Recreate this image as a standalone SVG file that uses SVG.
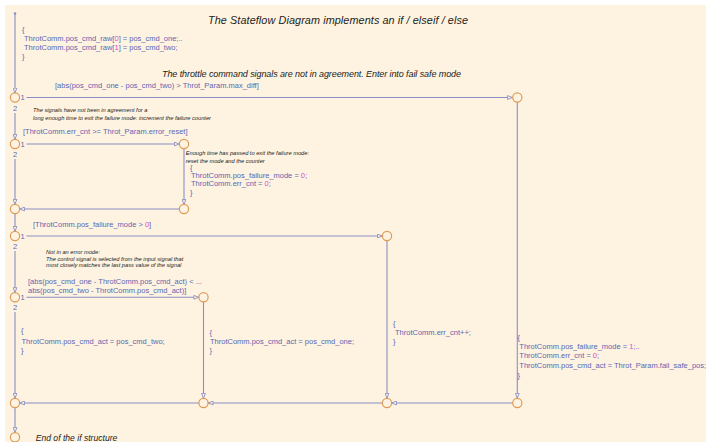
<svg xmlns="http://www.w3.org/2000/svg" width="706" height="442" viewBox="0 0 706 442">
<defs>
<style>
.bg{fill:#FEF3E0}
.ln{fill:none;stroke:#8A8EC6;stroke-width:1.1}
.jn{fill:none;stroke:#DE9B58;stroke-width:1.2}
.code{font-family:"Liberation Sans",Arial,sans-serif;font-size:7.5px;fill:#5B66B3}
.num{fill:#E048D8}
.cmt{font-family:"Liberation Sans",Arial,sans-serif;font-size:5.7px;font-style:italic;fill:#1a1a1a}
.head{font-family:"Liberation Sans",Arial,sans-serif;font-style:italic;fill:#222}
</style>
<marker id="ah" markerUnits="userSpaceOnUse" markerWidth="6" markerHeight="5" viewBox="0 0 6 5" refX="5.5" refY="2.5" orient="auto">
<path d="M0.6,0.6 L5.4,2.5 L0.6,4.4 Z" fill="#FEF3E0" stroke="#8A8EC6" stroke-width="0.9"/>
</marker>
</defs>
<rect x="0" y="0" width="706" height="442" fill="#FFFFFF"/>
<rect class="bg" x="5" y="5" width="701" height="437"/>

<g id="connectors">
<circle cx="15" cy="13.5" r="1.3" fill="#8A8EC6"/>
<path class="ln" d="M15,13.5 V93" marker-end="url(#ah)"/>
<path class="ln" d="M26.5,97.5 H512.5" marker-end="url(#ah)"/>
<path class="ln" d="M15,113 V139.3" marker-end="url(#ah)"/>
<path class="ln" d="M26.5,144 H179.3" marker-end="url(#ah)"/>
<path class="ln" d="M184,148.5 V204.5" marker-end="url(#ah)"/>
<path class="ln" d="M179.5,209 H19.7" marker-end="url(#ah)"/>
<path class="ln" d="M15,159 V204.3" marker-end="url(#ah)"/>
<path class="ln" d="M15,213.5 V231.3" marker-end="url(#ah)"/>
<path class="ln" d="M26.5,236 H382.3" marker-end="url(#ah)"/>
<path class="ln" d="M15,251 V292.6" marker-end="url(#ah)"/>
<path class="ln" d="M26.5,297.3 H198.8" marker-end="url(#ah)"/>
<path class="ln" d="M15,312 V398.3" marker-end="url(#ah)"/>
<path class="ln" d="M203.5,301.8 V398.3" marker-end="url(#ah)"/>
<path class="ln" d="M387,240.5 V398.3" marker-end="url(#ah)"/>
<path class="ln" d="M517.3,102.2 V398.3" marker-end="url(#ah)"/>
<path class="ln" d="M512.8,403 H391.7" marker-end="url(#ah)"/>
<path class="ln" d="M382.5,403 H208.2" marker-end="url(#ah)"/>
<path class="ln" d="M199,403 H19.7" marker-end="url(#ah)"/>
<path class="ln" d="M15,407.5 V432.5" marker-end="url(#ah)"/>
</g>

<g id="j1"><circle class="jn" cx="15" cy="97.5" r="4.6"/><text class="code" x="20.5" y="100.3">1</text><text class="code" x="12.9" y="110.8">2</text></g>
<g id="j1r"><circle class="jn" cx="517.3" cy="97.5" r="4.6"/></g>
<g id="j2"><circle class="jn" cx="15" cy="144" r="4.6"/><text class="code" x="20.5" y="146.8">1</text><text class="code" x="12.9" y="157">2</text></g>
<g id="j2r"><circle class="jn" cx="184" cy="144" r="4.6"/></g>
<g id="j3r"><circle class="jn" cx="184" cy="209" r="4.6"/></g>
<g id="j3"><circle class="jn" cx="15" cy="209" r="4.6"/></g>
<g id="j4"><circle class="jn" cx="15" cy="236" r="4.6"/><text class="code" x="20.5" y="238.8">1</text><text class="code" x="12.9" y="248.5">2</text></g>
<g id="j4r"><circle class="jn" cx="387" cy="236" r="4.6"/></g>
<g id="j5"><circle class="jn" cx="15" cy="297.3" r="4.6"/><text class="code" x="20.5" y="300.1">1</text><text class="code" x="12.9" y="309.5">2</text></g>
<g id="j5r"><circle class="jn" cx="203.5" cy="297.3" r="4.6"/></g>
<g id="j6"><circle class="jn" cx="15" cy="403" r="4.6"/></g>
<g id="j7"><circle class="jn" cx="203.5" cy="403" r="4.6"/></g>
<g id="j8"><circle class="jn" cx="387" cy="403" r="4.6"/></g>
<g id="j9"><circle class="jn" cx="517.3" cy="403" r="4.6"/></g>
<g id="j10"><circle class="jn" cx="15" cy="437.3" r="4.6"/></g>

<g id="labels">
<text class="head" x="208" y="24" font-size="10.8" textLength="260" lengthAdjust="spacing">The Stateflow Diagram implements  an if / elseif / else</text>
<text class="code" x="22" y="31.5">{</text>
<text class="code" x="24" y="40.5">ThrotComm.pos_cmd_raw[<tspan class="num">0</tspan>] = pos_cmd_one;..</text>
<text class="code" x="24" y="49.5">ThrotComm.pos_cmd_raw[<tspan class="num">1</tspan>] = pos_cmd_two;</text>
<text class="code" x="22" y="58.5">}</text>
<text class="head" x="162" y="77.2" font-size="9" textLength="299" lengthAdjust="spacing">The throttle command signals are not in agreement.  Enter into fail safe mode</text>
<text class="code" x="55" y="87.8">[abs(pos_cmd_one - pos_cmd_two) &gt; Throt_Param.max_diff]</text>
<text class="cmt" x="33" y="112">The signals have not been in agreement for a</text>
<text class="cmt" x="33" y="119.7">long enough time to exit the failure mode: increment the failure counter</text>
<text class="code" x="23" y="134.4">[ThrotComm.err_cnt &gt;= Throt_Param.error_reset]</text>
<text class="cmt" x="185.7" y="155.3">Enough time has passed to exit the failure mode:</text>
<text class="cmt" x="185.7" y="162.7">reset the mode and the counter</text>
<text class="code" x="190" y="169.8">{</text>
<text class="code" x="191" y="178.2">ThrotComm.pos_failure_mode = <tspan class="num">0</tspan>;</text>
<text class="code" x="191" y="186.4">ThrotComm.err_cnt = <tspan class="num">0</tspan>;</text>
<text class="code" x="190" y="195">}</text>
<text class="code" x="33" y="226.8">[ThrotComm.pos_failure_mode &gt; <tspan class="num">0</tspan>]</text>
<text class="cmt" x="46" y="254.4">Not in an error mode:</text>
<text class="cmt" x="46" y="260.7">The control signal is selected from the input signal that</text>
<text class="cmt" x="46" y="267.4">most closely matches the last pass value of the signal</text>
<text class="code" x="28" y="284.4">[abs(pos_cmd_one - ThrotComm.pos_cmd_act) &lt; ...</text>
<text class="code" x="28" y="293.4">abs(pos_cmd_two - ThrotComm.pos_cmd_act)]</text>
<text class="code" x="21" y="333">{</text>
<text class="code" x="21.5" y="344.3">ThrotComm.pos_cmd_act = pos_cmd_two;</text>
<text class="code" x="21" y="353">}</text>
<text class="code" x="209.5" y="335">{</text>
<text class="code" x="210" y="344.3">ThrotComm.pos_cmd_act = pos_cmd_one;</text>
<text class="code" x="209.5" y="353">}</text>
<text class="code" x="393" y="325.5">{</text>
<text class="code" x="395" y="334.8">ThrotComm.err_cnt++;</text>
<text class="code" x="393" y="344">}</text>
<text class="code" x="517.5" y="340">{</text>
<text class="code" x="519.3" y="348.6">ThrotComm.pos_failure_mode = <tspan class="num">1</tspan>;..</text>
<text class="code" x="519.3" y="358.2">ThrotComm.err_cnt = <tspan class="num">0</tspan>;</text>
<text class="code" x="519.3" y="367.6">ThrotComm.pos_cmd_act = Throt_Param.fail_safe_pos;</text>
<text class="code" x="517.5" y="377.5">}</text>
<text class="head" x="35.7" y="440.8" font-size="8.6">End of the if structure</text>
</g>
</svg>
